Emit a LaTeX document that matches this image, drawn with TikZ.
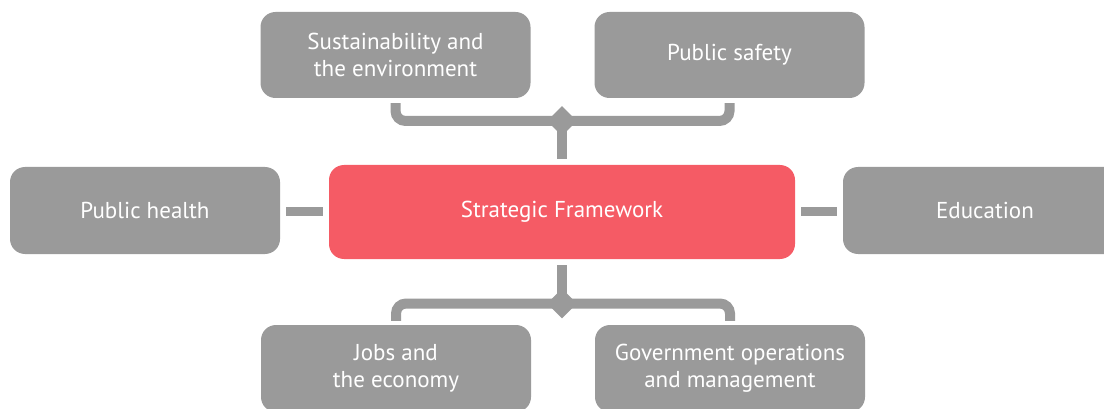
\documentclass[tikz,border=0pt]{standalone}
\usepackage{fontspec}
\setmainfont{PT Sans}
\usetikzlibrary{shapes.geometric}
\definecolor{boxgrey}{HTML}{9A9A9A}
\definecolor{framered}{HTML}{F55B65}
\begin{document}
\begin{tikzpicture}[x=1pt,y=-1pt,
  topic/.style={fill=boxgrey, rounded corners=15pt, inner sep=0pt,
    text=white, align=center, font=\fontsize{23}{27}\selectfont},
  core/.style={fill=framered, rounded corners=15pt, inner sep=0pt,
    text=white, align=center, font=\fontsize{23}{27}\selectfont},
  link/.style={draw=boxgrey, line width=10pt, rounded corners=10pt},
  junction/.style={diamond, fill=boxgrey, inner sep=0pt, minimum size=30pt}]
\useasboundingbox (0,0) rectangle (1104,409);
% central framework
\node[core, minimum width=466pt, minimum height=94pt] (sf) at (562,212) {Strategic Framework};
% topic boxes
\node[topic, minimum width=270pt, minimum height=86pt] (sus) at (395.5,55) {Sustainability and\\the environment};
\node[topic, minimum width=270pt, minimum height=86pt] (saf) at (729.5,55) {Public safety};
\node[topic, minimum width=270pt, minimum height=87pt] (ph) at (145,210.5) {Public health};
\node[topic, minimum width=284pt, minimum height=87pt] (edu) at (985,210.5) {Education};
\node[topic, minimum width=270pt, minimum height=87pt] (job) at (396,368.5) {Jobs and\\the economy};
\node[topic, minimum width=270pt, minimum height=87pt] (gov) at (730,368.5) {Government operations\\and management};
% junctions
\node[junction] (jt) at (562,121) {};
\node[junction] (jb) at (562,303.5) {};
% end points of the side links, level with the framework's centre
\coordinate (phend) at (ph.east |- sf.west);
\coordinate (eduend) at (edu.west |- sf.east);
% connectors
\draw[link] ([yshift=-5pt]sus.south) |- (jt.center) -| ([yshift=-5pt]saf.south);
\draw[link] (jt.center) -- ([yshift=6pt]sf.north);
\draw[link] ([yshift=-6pt]sf.south) -- (jb.center);
\draw[link] ([yshift=4pt]job.north) |- (jb.center) -| ([yshift=4pt]gov.north);
\draw[link, line width=9pt] ([xshift=6pt]phend) -- ([xshift=-6pt]sf.west);
\draw[link, line width=9pt] ([xshift=6pt]sf.east) -- ([xshift=-6pt]eduend);
\end{tikzpicture}
\end{document}
